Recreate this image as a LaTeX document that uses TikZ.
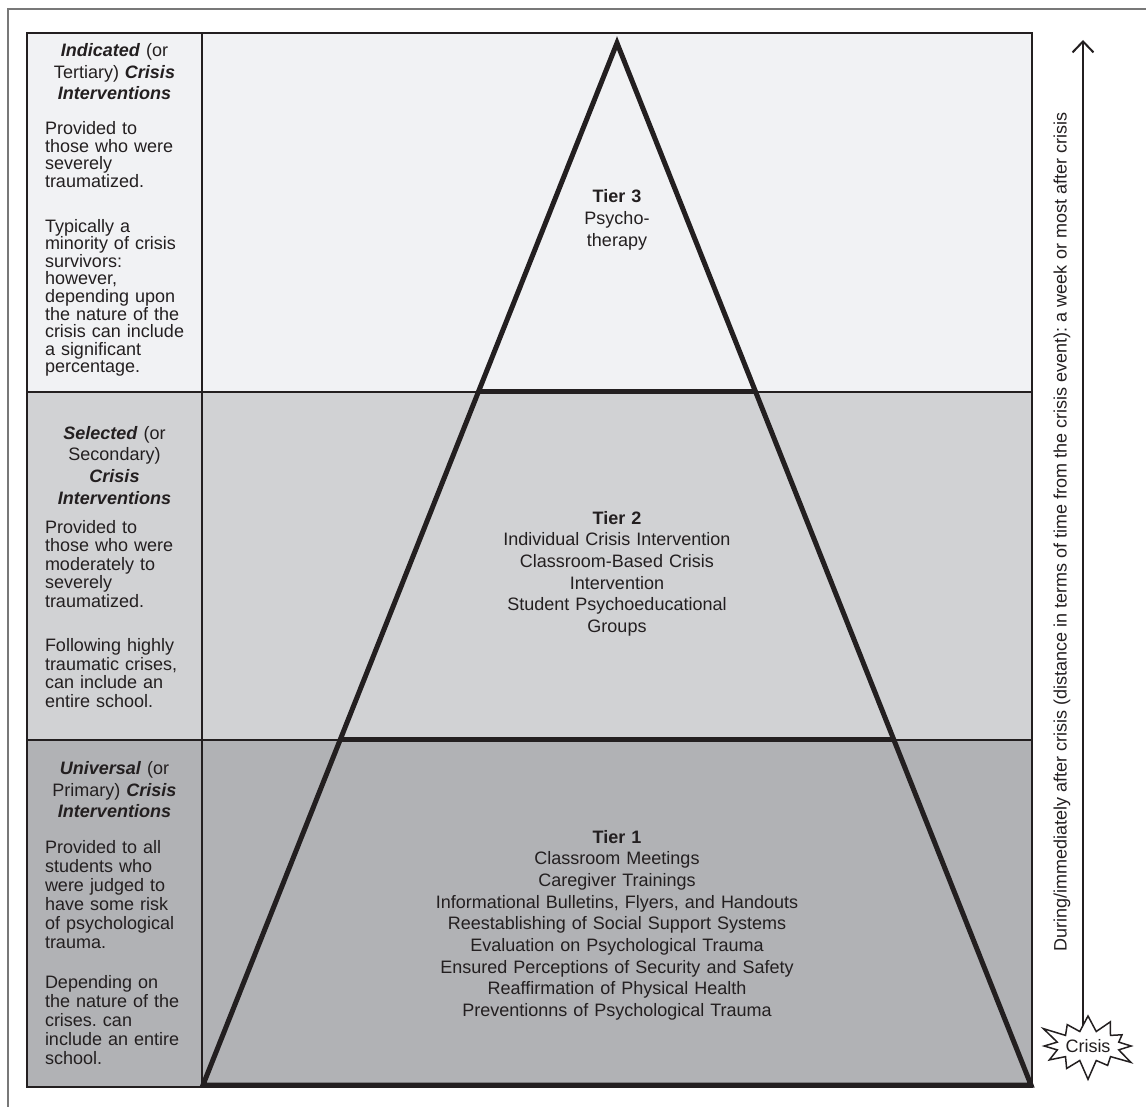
\documentclass[tikz,border=0pt]{standalone}
\usepackage{fontspec}
\setmainfont{Liberation Sans}
\usetikzlibrary{arrows.meta,shapes.symbols}
\frenchspacing

\definecolor{colorInk}{RGB}{35,31,32}
\definecolor{colorTierLight}{RGB}{241,242,244}
\definecolor{colorTierMid}{RGB}{209,210,212}
\definecolor{colorTierDark}{RGB}{177,178,181}
\definecolor{colorFrame}{RGB}{120,120,120}

\newcommand{\tierKey}[1]{\textbf{\textit{#1}}}

\begin{document}
\begin{tikzpicture}[x=1pt, y=-1pt, line width=2pt, color=colorInk]

		\useasboundingbox (0,0) rectangle (1146,1107);
		\tikzset{
			styleTitle/.style={
				anchor=base, text width=170pt, align=center, inner sep=0pt,
				font=\fontsize{18}{21.7}\selectfont
			},		%左欄の見出し
			styleBody/.style={
				anchor=base west, text width=160pt, align=left, inner sep=0pt
			},		%左欄の本文
			styleTier/.style={
				anchor=base, text width=420pt, align=center, inner sep=0pt,
				font=\fontsize{18}{21.7}\selectfont
			},		%三角形の中の文字
			stylePyramid/.style={line width=5pt, line join=miter}
		};

		%段の背景を塗る
		\foreach \rowName/\topY/\bottomY/\rowColor in {
				3/33/392/colorTierLight, 2/392/740/colorTierMid,
				1/740/1087/colorTierDark} {
			\draw[fill=\rowColor] (27,\topY) rectangle (1032,\bottomY);
		}
		\draw (202,33) -- (202,1087);	%左欄の区切り

		%三角形の頂点
		\coordinate (apex) at (617,43);
		\coordinate (baseL) at (203,1085);
		\coordinate (baseR) at (1031,1085);
		%段の境目に名前をつける
		\path (apex) -- coordinate[pos=0.3349] (cut3L)
			coordinate[pos=0.6689] (cut2L) (baseL);
		\path (apex) -- coordinate[pos=0.3349] (cut3R)
			coordinate[pos=0.6689] (cut2R) (baseR);
		\draw[stylePyramid] (cut3L) -- (cut3R) (cut2L) -- (cut2R);
		\draw[stylePyramid] (apex) -- (baseL) -- (baseR) -- cycle;

		%左欄の文字
		\foreach \rowName/\skipBody/\titleY/\titleText/\firstY/\firstText/\secondY/\secondText in {
				3/17.6/56.5/{\tierKey{Indicated} (or\\Tertiary) \tierKey{Crisis}\\\tierKey{Interventions}}/
					134.8/{Provided to\\those who were\\severely\\traumatized.}/
					232.2/{Typically a\\minority of crisis\\survivors:\\however,\\depending upon\\the nature of the\\crisis can include\\a significant\\percentage.},
				2/18.5/439.2/{\tierKey{Selected} (or\\Secondary)\\\tierKey{Crisis}\\\tierKey{Interventions}}/
					533.2/{Provided to\\those who were\\moderately to\\severely\\traumatized.}/
					651.5/{Following highly\\traumatic crises,\\can include an\\entire school.},
				1/19/774.5/{\tierKey{Universal} (or\\Primary) \tierKey{Crisis}\\\tierKey{Interventions}}/
					853/{Provided to all\\students who\\were judged to\\have some risk\\of psychological\\trauma.}/
					988/{Depending on\\the nature of the\\crises. can\\include an entire\\school.}} {
			\node[styleTitle] (title\rowName) at (114.5,\titleY) {\titleText};
			\node[styleBody, font=\fontsize{18}{\skipBody}\selectfont]
				(first\rowName) at (44,\firstY) {\firstText};
			\node[styleBody, font=\fontsize{18}{\skipBody}\selectfont]
				(second\rowName) at (44,\secondY) {\secondText};
		}

		%三角形の中の文字
		\node[styleTier] (tier3) at (617,203) {\textbf{Tier 3}\\Psycho-\\therapy};
		\node[styleTier] (tier2) at (617,524) {\textbf{Tier 2}\\Individual Crisis Intervention\\
			Classroom-Based Crisis\\Intervention\\Student Psychoeducational\\Groups};
		\node[styleTier] (tier1) at (617,843) {\textbf{Tier 1}\\Classroom Meetings\\
			Caregiver Trainings\\Informational Bulletins, Flyers, and Handouts\\
			Reestablishing of Social Support Systems\\Evaluation on Psychological Trauma\\
			Ensured Perceptions of Security and Safety\\Reaffirmation of Physical Health\\
			Preventionns of Psychological Trauma};

		%時間の矢印
		\coordinate (arrowTop) at (1083,40);
		\coordinate (arrowFoot) at (1083,1035);
		\draw[-{Straight Barb[length=11pt, width=21pt]}] (arrowFoot) -- (arrowTop);
		\node[rotate=90, inner sep=0pt, font=\fontsize{18}{21.7}\selectfont] (timeLabel)
			at (1062,532) {During/immediately after crisis (distance in terms of time
			from the crisis event): a week or most after crisis};
		\node[draw, fill=white, starburst, starburst points=12,
			starburst point height=21pt, minimum width=104pt, minimum height=72pt,
			inner sep=0pt, line width=1.5pt, font=\fontsize{18}{21.7}\selectfont]
			(crisis) at (1088,1046) {Crisis};

		%外枠
		\draw[colorFrame, line width=1.5pt] (8,1107) -- (8,9) -- (1146,9);

	\end{tikzpicture}
\end{document}
